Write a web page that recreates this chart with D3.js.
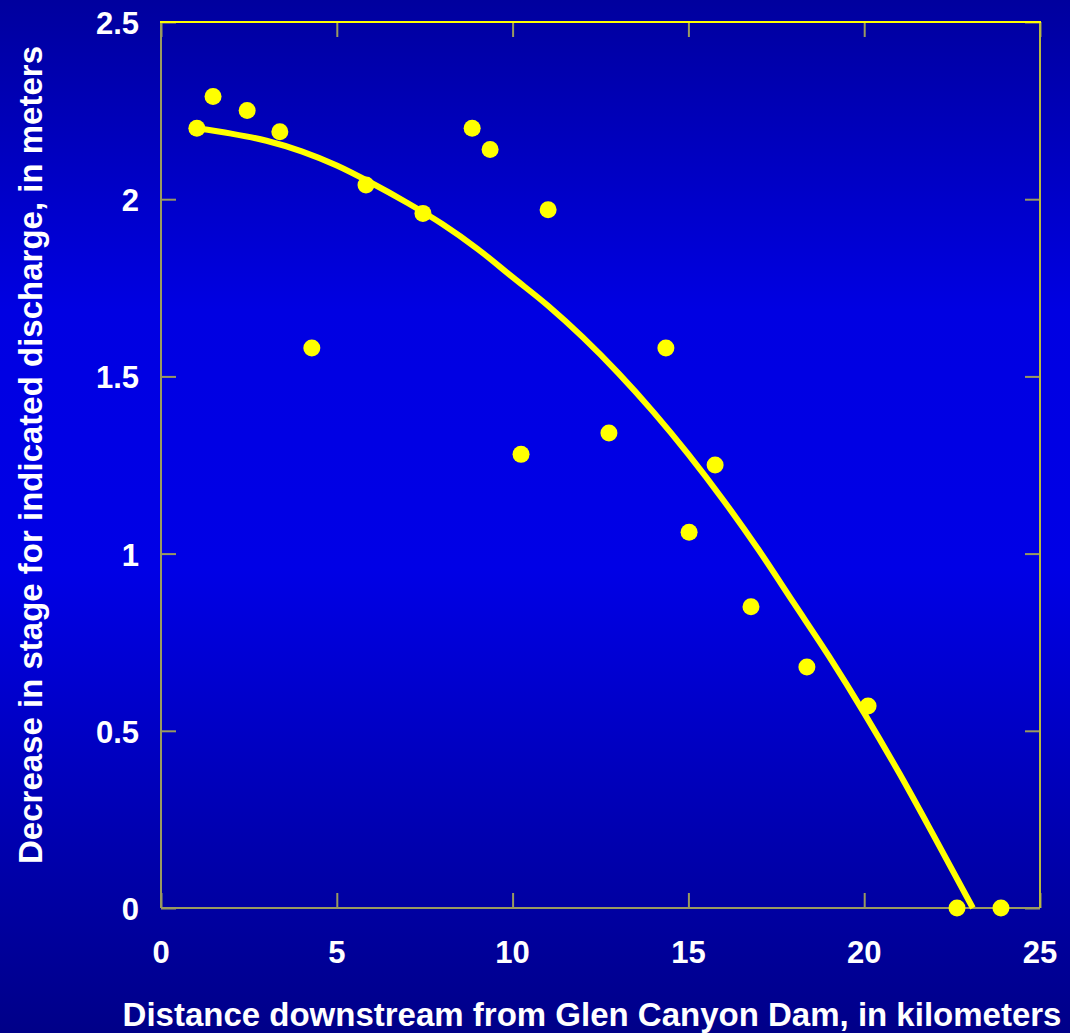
<!DOCTYPE html>
<html>
<head>
<meta charset="utf-8">
<script src="https://cdn.jsdelivr.net/npm/d3@7"></script>
<style>
  body { margin: 0; padding: 0; background: #000090; }
  svg { display: block; }
</style>
</head>
<body>
<div id="chart"></div>
<script>
var W = 1070, H = 1033;
var margin = {left: 161, right: 30, top: 22, bottom: 125};

// measured stations: distance (km) and drop in stage (m)
var distKm = [1.02, 1.48, 2.45, 3.38, 4.29, 5.83, 7.45, 8.85, 9.36, 10.24,
              11.01, 12.74, 14.36, 15.02, 15.76, 16.78, 18.37, 20.11, 22.64, 23.89];
var dropM = [2.20, 2.29, 2.25, 2.19, 1.58, 2.04, 1.96, 2.20, 2.14, 1.28,
             1.97, 1.34, 1.58, 1.06, 1.25, 0.85, 0.68, 0.57, 0.00, 0.00];

// fitted curve
var curveX = [1.02, 2, 3, 4, 5, 6, 7, 8, 9, 10, 11, 12, 13, 14, 15, 16, 17, 18, 19, 20, 21, 22, 23.09];
var curveY = [2.20, 2.185, 2.165, 2.135, 2.095, 2.045, 1.99, 1.93, 1.86, 1.78, 1.70, 1.61, 1.51, 1.40,
              1.28, 1.15, 1.01, 0.86, 0.71, 0.55, 0.38, 0.20, 0.00];

var xTicks = [0, 5, 10, 15, 20, 25];
var yTicks = [0, 0.5, 1, 1.5, 2, 2.5];

var xTitle = "Distance downstream from Glen Canyon Dam, in kilometers";
var yTitle = "Decrease in stage for indicated discharge, in meters";

var svg = d3.select("#chart").append("svg")
  .attr("width", W).attr("height", H)
  .style("font-family", "'Liberation Sans', Arial, sans-serif");

var defs = svg.append("defs");
var grad = defs.append("linearGradient").attr("id", "bg")
  .attr("x1", 0).attr("y1", 0).attr("x2", 0).attr("y2", 1);
grad.append("stop").attr("offset", "0").attr("stop-color", "#00009e");
grad.append("stop").attr("offset", "0.3").attr("stop-color", "#0000e2");
grad.append("stop").attr("offset", "0.55").attr("stop-color", "#0000e6");
grad.append("stop").attr("offset", "1").attr("stop-color", "#000088");

svg.append("rect").attr("width", W).attr("height", H).attr("fill", "url(#bg)");

var x = d3.scaleLinear().domain([0, 25]).range([margin.left, W - margin.right]);
var y = d3.scaleLinear().domain([0, 2.5]).range([H - margin.bottom, margin.top]);

var frameCol = "#9a9a60";

// ticks pointing inward
var g = svg.append("g");
g.append("g").attr("transform", `translate(0,${y(0)})`)
  .call(d3.axisTop(x).tickValues(xTicks).tickSize(15).tickFormat(""))
  .call(a => a.select(".domain").remove())
  .selectAll("line").attr("stroke", frameCol).attr("stroke-width", 2);
g.append("g").attr("transform", `translate(0,${y(2.5)})`)
  .call(d3.axisBottom(x).tickValues(xTicks).tickSize(15).tickFormat(""))
  .call(a => a.select(".domain").remove())
  .selectAll("line").attr("stroke", frameCol).attr("stroke-width", 2);
g.append("g").attr("transform", `translate(${x(0)},0)`)
  .call(d3.axisRight(y).tickValues(yTicks).tickSize(15).tickFormat(""))
  .call(a => a.select(".domain").remove())
  .selectAll("line").attr("stroke", frameCol).attr("stroke-width", 2);
g.append("g").attr("transform", `translate(${x(25)},0)`)
  .call(d3.axisLeft(y).tickValues(yTicks).tickSize(15).tickFormat(""))
  .call(a => a.select(".domain").remove())
  .selectAll("line").attr("stroke", frameCol).attr("stroke-width", 2);

// frame
svg.append("line").attr("x1", x(0)).attr("x2", x(0)).attr("y1", y(0)).attr("y2", y(2.5))
  .attr("stroke", frameCol).attr("stroke-width", 2);
svg.append("line").attr("x1", x(0)).attr("x2", x(25)).attr("y1", y(0)).attr("y2", y(0))
  .attr("stroke", frameCol).attr("stroke-width", 2);
svg.append("line").attr("x1", x(25)).attr("x2", x(25)).attr("y1", y(0)).attr("y2", y(2.5))
  .attr("stroke", "#b8b840").attr("stroke-width", 2);
svg.append("line").attr("x1", x(0) - 1).attr("x2", x(25) + 1).attr("y1", y(2.5)).attr("y2", y(2.5))
  .attr("stroke", "#ffff00").attr("stroke-width", 2);

// tick labels
svg.append("g").selectAll("text").data(xTicks).join("text")
  .attr("x", d => x(d)).attr("y", y(0) + 55)
  .attr("text-anchor", "middle").attr("fill", "#fff")
  .attr("font-size", 31).attr("font-weight", "bold")
  .text(d => d);
svg.append("g").selectAll("text").data(yTicks).join("text")
  .attr("x", x(0) - 22).attr("y", d => y(d) + 12)
  .attr("text-anchor", "end").attr("fill", "#fff")
  .attr("font-size", 31).attr("font-weight", "bold")
  .text(d => d);

// axis titles
svg.append("text").attr("x", 592).attr("y", 1026)
  .attr("text-anchor", "middle").attr("fill", "#fff")
  .attr("font-size", 33).attr("font-weight", "bold").text(xTitle);
svg.append("text").attr("transform", "translate(42,455) rotate(-90)")
  .attr("text-anchor", "middle").attr("fill", "#fff")
  .attr("font-size", 33).attr("font-weight", "bold").text(yTitle);

// curve
var line = d3.line().x(d => x(d[0])).y(d => y(d[1])).curve(d3.curveMonotoneX);
svg.append("path").datum(d3.zip(curveX, curveY))
  .attr("d", line).attr("fill", "none")
  .attr("stroke", "#ffff00").attr("stroke-width", 6);

// points
svg.append("g").selectAll("circle").data(d3.zip(distKm, dropM)).join("circle")
  .attr("cx", d => x(d[0])).attr("cy", d => y(d[1])).attr("r", 8.5)
  .attr("fill", "#ffff00");
</script>
</body>
</html>
